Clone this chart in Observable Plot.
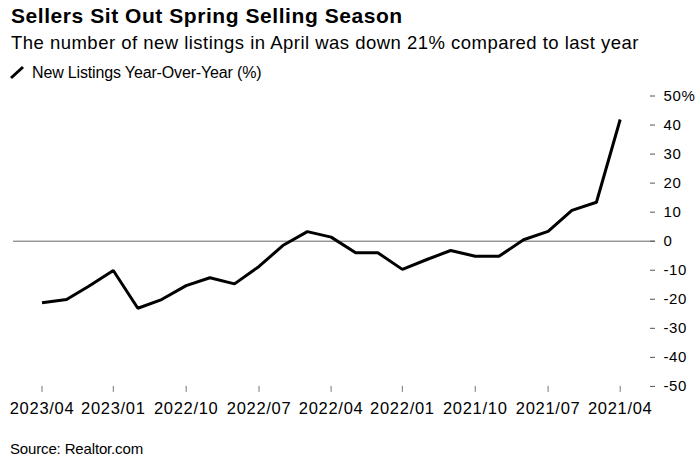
<!DOCTYPE html>
<html>
<head>
<meta charset="utf-8">
<script src="https://cdn.jsdelivr.net/npm/d3@7"></script>
<script src="https://cdn.jsdelivr.net/npm/@observablehq/plot@0.6"></script>
<style>
  html, body { margin: 0; padding: 0; background: #fff; }
  body { width: 700px; height: 467px; position: relative; overflow: hidden; font-family: "Liberation Sans", Arial, sans-serif; color: #000; }
  .t { position: absolute; white-space: nowrap; line-height: 1; display: inline-block; }
  #title { left: 11px; top: 4.5px; font-size: 21px; font-weight: bold; }
  #subtitle { left: 11px; top: 34.3px; font-size: 18.5px; }
  #legend { left: 32px; top: 64.8px; font-size: 16px; }
  #legicon { position: absolute; left: 0; top: 60px; }
  #source { left: 10px; top: 441.3px; font-size: 15px; }
  #chart { position: absolute; left: 0; top: 88px; }
  #chart g[aria-label="x-axis tick label"] { letter-spacing: 0.7px; }
  #chart g[aria-label="y-axis tick label"] { letter-spacing: 0.6px; }
</style>
</head>
<body>
<div class="t" id="title">Sellers Sit Out Spring Selling Season</div>
<div class="t" id="subtitle">The number of new listings in April was down 21% compared to last year</div>
<svg id="legicon" width="30" height="30"><line x1="11" y1="18" x2="23" y2="7" stroke="#000" stroke-width="3"/></svg>
<div class="t" id="legend">New Listings Year-Over-Year (%)</div>
<div id="chart"></div>
<div class="t" id="source">Source: Realtor.com</div>
<script>
const months = ["2023-04","2023-03","2023-02","2023-01","2022-12","2022-11","2022-10","2022-09","2022-08","2022-07","2022-06","2022-05","2022-04","2022-03","2022-02","2022-01","2021-12","2021-11","2021-10","2021-09","2021-08","2021-07","2021-06","2021-05","2021-04"];
const values = [-21.2,-20.1,-15.5,-10.1,-23.1,-20.1,-15.3,-12.6,-14.7,-8.7,-1.5,3.3,1.4,-4.0,-4.0,-9.7,-6.3,-3.2,-5.2,-5.2,0.5,3.4,10.6,13.4,41.9];
const xTickMonths = ["2023-04","2023-01","2022-10","2022-07","2022-04","2022-01","2021-10","2021-07","2021-04"];
const yTicks = [-50,-40,-30,-20,-10,0,10,20,30,40,50];

const parse = d3.utcParse("%Y-%m");
const data = months.map((m, i) => ({date: parse(m), value: values[i]}));
const xTicks = xTickMonths.map(parse);

const chart = Plot.plot({
  width: 700,
  height: 335,
  marginLeft: 13,
  marginRight: 51,
  marginTop: 7.5,
  marginBottom: 37.1,
  style: {fontFamily: "'Liberation Sans', Arial, sans-serif", color: "#000", background: "transparent"},
  x: {type: "utc", domain: [new Date(Date.UTC(2023, 4, 7)), new Date(Date.UTC(2021, 1, 23))], label: null},
  y: {domain: [-50, 50], label: null},
  marks: [
    Plot.ruleY([0], {stroke: "#666", strokeWidth: 1, insetRight: -6}),
    Plot.axisX({ticks: xTicks, tickFormat: d3.utcFormat("%Y/%m"), tickSize: 6, tickPadding: 9.7, fontSize: 16.5, stroke: "#777", fill: "#000", label: null}),
    Plot.axisY({anchor: "right", ticks: yTicks, tickFormat: d => d === 50 ? "50%" : String(d), tickSize: 5, tickPadding: 9, fontSize: 15, stroke: "#555", fill: "#000", label: null}),
    Plot.line(data, {x: "date", y: "value", stroke: "#000", strokeWidth: 3, strokeLinejoin: "miter", strokeLinecap: "butt"})
  ]
});
document.getElementById("chart").appendChild(chart);

function fit(id, target) {
  const el = document.getElementById(id);
  el.style.letterSpacing = "0px";
  const w = el.getBoundingClientRect().width;
  const n = el.textContent.length;
  el.style.letterSpacing = ((target - w) / n) + "px";
}
function fitAll() {
  fit("title", 391.7);
  fit("subtitle", 628);
  fit("legend", 229.4);
  fit("source", 133);
}
fitAll();
if (document.fonts && document.fonts.ready) document.fonts.ready.then(fitAll);
</script>
</body>
</html>
